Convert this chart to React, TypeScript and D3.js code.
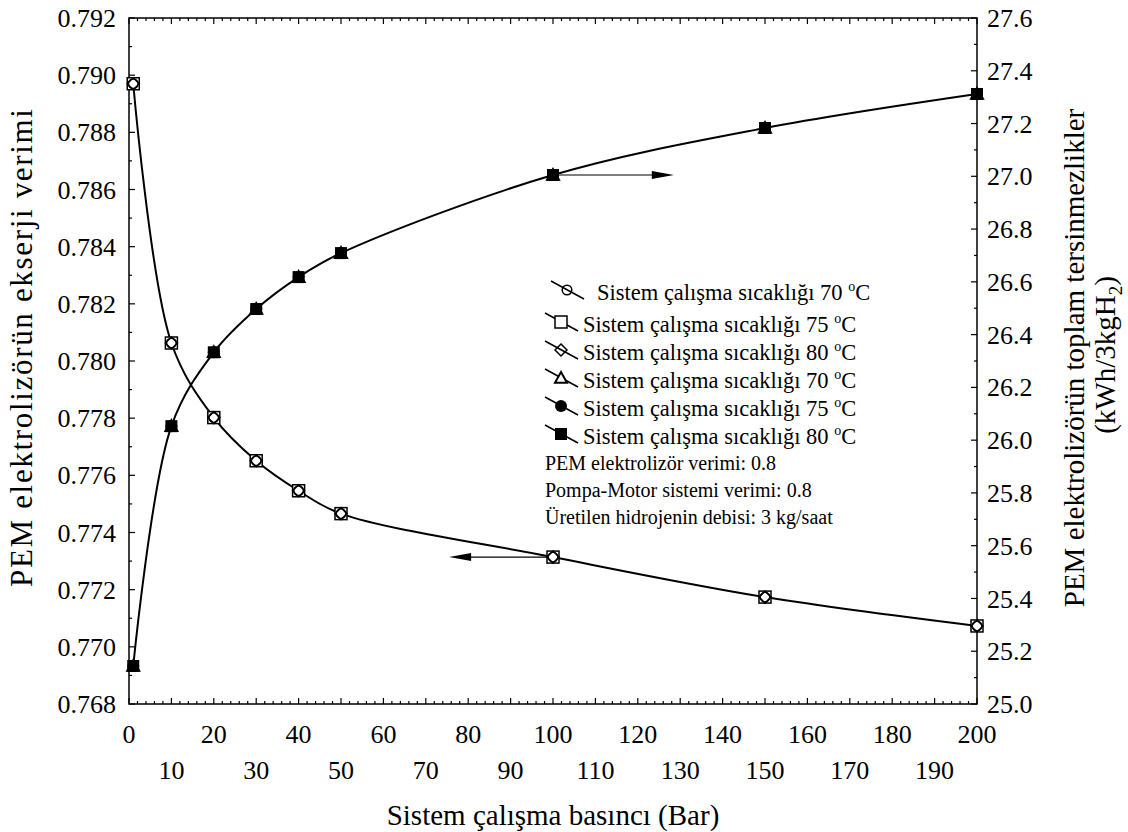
import React from "react";
import * as d3 from "d3";

const pressure = [1, 10, 20, 30, 40, 50, 100, 150, 200];
const exergy70 = [0.7897, 0.78063, 0.77802, 0.77651, 0.77546, 0.77466, 0.77314, 0.77174, 0.77073];
const exergy75 = [0.7897, 0.78063, 0.77802, 0.77651, 0.77546, 0.77466, 0.77314, 0.77174, 0.77073];
const exergy80 = [0.7897, 0.78063, 0.77802, 0.77651, 0.77546, 0.77466, 0.77314, 0.77174, 0.77073];
const irrev70 = [25.144, 26.053, 26.333, 26.497, 26.618, 26.709, 27.005, 27.183, 27.312];
const irrev75 = [25.144, 26.053, 26.333, 26.497, 26.618, 26.709, 27.005, 27.183, 27.312];
const irrev80 = [25.144, 26.053, 26.333, 26.497, 26.618, 26.709, 27.005, 27.183, 27.312];

const xTicksTop = [0, 20, 40, 60, 80, 100, 120, 140, 160, 180, 200];
const xTicksBottom = [10, 30, 50, 70, 90, 110, 130, 150, 170, 190];
const leftTicks = [0.768, 0.77, 0.772, 0.774, 0.776, 0.778, 0.78, 0.782, 0.784, 0.786, 0.788, 0.79, 0.792];
const rightTicks = [25.0, 25.2, 25.4, 25.6, 25.8, 26.0, 26.2, 26.4, 26.6, 26.8, 27.0, 27.2, 27.4, 27.6];

const legendTemps = ["70", "75", "80", "70", "75", "80"];
const legendMarkers = ["circle", "square", "diamond", "triangle", "fcircle", "fsquare"];
const notes = [
  "PEM elektrolizör verimi: 0.8",
  "Pompa-Motor sistemi verimi: 0.8",
  "Üretilen hidrojenin debisi: 3 kg/saat",
];

const leftArrow = { from: 100, to: 75.5, value: 0.77314 };
const rightArrow = { from: 100, to: 128.5, value: 27.005 };

const W = 1128;
const H = 832;
const M = { left: 129, right: 977, top: 18, bottom: 704 };
const TS = { fontFamily: "Liberation Serif" };

function Marker({ type, x, y, s = 6 }: { type: string; x: number; y: number; s?: number }) {
  const sw = 1.5;
  switch (type) {
    case "circle":
      return <circle cx={x} cy={y} r={s * 0.8} fill="none" stroke="#000" strokeWidth={sw} />;
    case "square":
      return <rect x={x - s} y={y - s} width={2 * s} height={2 * s} fill="white" stroke="#000" strokeWidth={sw} />;
    case "diamond":
      return (
        <path d={`M${x},${y - s}L${x + s},${y}L${x},${y + s}L${x - s},${y}Z`} fill="none" stroke="#000" strokeWidth={sw} />
      );
    case "triangle":
      return (
        <path d={`M${x},${y - s}L${x + s},${y + s * 0.8}L${x - s},${y + s * 0.8}Z`} fill="white" stroke="#000" strokeWidth={sw + 0.5} />
      );
    case "fcircle":
      return <circle cx={x} cy={y} r={s} fill="#000" />;
    case "fsquare":
      return <rect x={x - s} y={y - s} width={2 * s} height={2 * s} fill="#000" />;
  }
  return null;
}

export default function App() {
  const x = d3.scaleLinear().domain([0, 200]).range([M.left, M.right]);
  const yL = d3.scaleLinear().domain([0.768, 0.792]).range([M.bottom, M.top]);
  const yR = d3.scaleLinear().domain([25.0, 27.6]).range([M.bottom, M.top]);

  const lineL = d3
    .line<[number, number]>()
    .x((d) => x(d[0]))
    .y((d) => yL(d[1]))
    .curve(d3.curveCatmullRom.alpha(0.5));
  const lineR = d3
    .line<[number, number]>()
    .x((d) => x(d[0]))
    .y((d) => yR(d[1]))
    .curve(d3.curveCatmullRom.alpha(0.5));

  const leftSeries = [
    { vals: exergy75, m: "square" },
    { vals: exergy80, m: "diamond" },
    { vals: exergy70, m: "circle" },
  ];
  const rightSeries = [
    { vals: irrev70, m: "triangle" },
    { vals: irrev75, m: "fcircle" },
    { vals: irrev80, m: "fsquare" },
  ];

  const xMinor = d3.range(0, 201, 2);
  const yLMinor = d3.range(0, 25).map((i) => 0.768 + i * 0.001);
  const yRMinor = d3.range(0, 27).map((i) => 25 + i * 0.1);

  const tick = (i: number) => (i % 2 === 0 ? 6 : 3);

  const legRows = [290, 322, 350, 378, 406, 434];
  const midY = (M.top + M.bottom) / 2;

  const arrowHead = (xt: number, y: number, dir: number) =>
    `M${xt},${y}L${xt - dir * 22},${y - 4}L${xt - dir * 22},${y + 4}Z`;

  return (
    <svg width={W} height={H} style={{ position: "absolute", left: 0, top: 0, background: "#fff" }}>
      <rect width={W} height={H} fill="#fff" />
      <rect x={M.left} y={M.top} width={M.right - M.left} height={M.bottom - M.top} fill="none" stroke="#000" strokeWidth={1.5} />

      {xMinor.map((v) => {
        const isMajor = v % 10 === 0;
        const len = isMajor ? 6 : 3;
        return (
          <g key={"xt" + v}>
            <line x1={x(v)} x2={x(v)} y1={M.bottom} y2={M.bottom - len} stroke="#000" strokeWidth={1.2} />
            <line x1={x(v)} x2={x(v)} y1={M.top} y2={M.top + len} stroke="#000" strokeWidth={1.2} />
          </g>
        );
      })}
      {yLMinor.map((v, i) => (
        <line key={"yl" + i} x1={M.left} x2={M.left + tick(i)} y1={yL(v)} y2={yL(v)} stroke="#000" strokeWidth={1.2} />
      ))}
      {yRMinor.map((v, i) => (
        <line key={"yr" + i} x1={M.right} x2={M.right - tick(i)} y1={yR(v)} y2={yR(v)} stroke="#000" strokeWidth={1.2} />
      ))}

      {xTicksTop.map((v) => (
        <text key={"xl" + v} x={x(v)} y={743} textAnchor="middle" fontSize={26} style={TS}>
          {v}
        </text>
      ))}
      {xTicksBottom.map((v) => (
        <text key={"xb" + v} x={x(v)} y={779} textAnchor="middle" fontSize={26} style={TS}>
          {v}
        </text>
      ))}
      {leftTicks.map((v) => (
        <text key={"ll" + v} x={116} y={yL(v)} dy="0.35em" textAnchor="end" fontSize={26} style={TS}>
          {d3.format(".3f")(v)}
        </text>
      ))}
      {rightTicks.map((v) => (
        <text key={"rl" + v} x={987} y={yR(v)} dy="0.35em" textAnchor="start" fontSize={26} style={TS}>
          {d3.format(".1f")(v)}
        </text>
      ))}

      <text x={553} y={825} textAnchor="middle" fontSize={29} style={TS}>
        Sistem çalışma basıncı (Bar)
      </text>
      <text
        transform={`translate(32,348) rotate(-90)`}
        textAnchor="middle"
        fontSize={31}
        textLength={478}
        lengthAdjust="spacing"
        style={TS}
      >
        PEM elektrolizörün ekserji verimi
      </text>
      <text transform={`translate(1084,${midY - 3}) rotate(-90)`} textAnchor="middle" fontSize={29} style={TS}>
        PEM elektrolizörün toplam tersinmezlikler
      </text>
      <text transform={`translate(1115,${midY - 6}) rotate(-90)`} textAnchor="middle" fontSize={29} style={TS}>
        (kWh/3kgH
        <tspan fontSize={19} dy="7">2</tspan>
        <tspan dy="-7">)</tspan>
      </text>

      <path d={lineL(pressure.map((p, i) => [p, exergy70[i]]) as [number, number][]) || ""} fill="none" stroke="#000" strokeWidth={2} />
      <path d={lineR(pressure.map((p, i) => [p, irrev80[i]]) as [number, number][]) || ""} fill="none" stroke="#000" strokeWidth={2} />

      <line x1={x(leftArrow.from)} x2={x(leftArrow.to) + 10} y1={yL(leftArrow.value)} y2={yL(leftArrow.value)} stroke="#000" strokeWidth={1.2} />
      <path d={arrowHead(x(leftArrow.to), yL(leftArrow.value), -1)} fill="#000" />
      <line x1={x(rightArrow.from)} x2={x(rightArrow.to) - 10} y1={yR(rightArrow.value)} y2={yR(rightArrow.value)} stroke="#000" strokeWidth={1.2} />
      <path d={arrowHead(x(rightArrow.to), yR(rightArrow.value), 1)} fill="#000" />

      {leftSeries.map((s) =>
        s.vals.map((v, i) => <Marker key={s.m + i} type={s.m} x={x(pressure[i])} y={yL(v)} />)
      )}
      {rightSeries.map((s) =>
        s.vals.map((v, i) => <Marker key={s.m + i} type={s.m} x={x(pressure[i])} y={yR(v)} />)
      )}

      {legendMarkers.map((m, i) => {
        const cy = legRows[i];
        const cx = i === 0 ? 567 : 561;
        return (
          <g key={"leg" + i}>
            <line x1={cx - 16} y1={cy - 9} x2={cx + 17} y2={cy + 9} stroke="#000" strokeWidth={1.5} />
            <Marker type={m} x={cx} y={cy} s={6} />
            <text x={i === 0 ? 597 : 583} y={cy + 10} fontSize={22.5} style={TS}>
              Sistem çalışma sıcaklığı {legendTemps[i]}{" "}
              <tspan fontSize={14} dy="-9">o</tspan>
              <tspan dy="9">C</tspan>
            </text>
          </g>
        );
      })}
      {notes.map((n, i) => (
        <text key={"note" + i} x={545} y={470 + i * 27} fontSize={20} style={TS}>
          {n}
        </text>
      ))}
    </svg>
  );
}
